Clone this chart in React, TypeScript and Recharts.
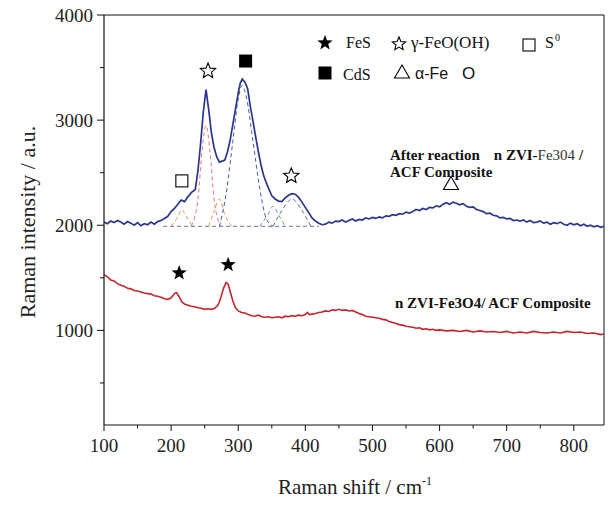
import React from 'react';
import { ComposedChart, Line, Scatter, XAxis, YAxis, ReferenceLine } from 'recharts';

// Raman spectrum after reaction (shift cm-1, intensity a.u.)
const afterReaction: number[][] = [
  [100, 2030], [105, 2015], [110, 2040], [115, 2025], [120, 2045], [125, 2030], [130, 2010],
  [135, 2035], [140, 2020], [145, 2000], [150, 2025], [155, 1995], [160, 2015], [165, 2005],
  [170, 2030], [175, 2010], [180, 2035], [185, 2045], [190, 2065], [195, 2085], [200, 2130],
  [205, 2160], [210, 2200], [215, 2240], [220, 2225], [225, 2270], [230, 2310], [236, 2340],
  [240, 2520], [244, 2780], [248, 3080], [252, 3290], [256, 3100], [260, 2880], [264, 2740],
  [268, 2650], [272, 2600], [276, 2610], [280, 2620], [284, 2700], [288, 2810], [292, 2960],
  [296, 3110], [300, 3260], [303, 3350], [306, 3390], [310, 3360], [314, 3300], [318, 3130],
  [322, 2990], [326, 2840], [330, 2700], [334, 2570], [338, 2470], [342, 2400], [346, 2340],
  [350, 2280], [355, 2250], [360, 2230], [365, 2225], [370, 2260], [375, 2285], [380, 2300],
  [385, 2295], [390, 2265], [395, 2220], [400, 2170], [405, 2120], [410, 2070], [415, 2040],
  [420, 2020], [425, 2005], [430, 2010], [435, 2030], [440, 2020], [445, 2040], [450, 2035],
  [455, 2050], [460, 2030], [465, 2045], [470, 2060], [475, 2040], [480, 2055], [485, 2050],
  [490, 2070], [495, 2060], [500, 2075], [505, 2065], [510, 2080], [515, 2070], [520, 2090],
  [525, 2085], [530, 2100], [535, 2095], [540, 2110], [545, 2105], [550, 2125], [555, 2115],
  [560, 2130], [565, 2150], [570, 2140], [575, 2160], [580, 2150], [585, 2170], [590, 2165],
  [595, 2185], [600, 2175], [605, 2200], [610, 2215], [615, 2200], [620, 2220], [625, 2210],
  [630, 2195], [635, 2205], [640, 2180], [645, 2170], [650, 2175], [655, 2150], [660, 2140],
  [665, 2130], [670, 2110], [675, 2115], [680, 2095], [685, 2090], [690, 2070], [695, 2075],
  [700, 2060], [705, 2065], [710, 2045], [715, 2050], [720, 2040], [725, 2050], [730, 2030],
  [735, 2045], [740, 2025], [745, 2030], [750, 2040], [755, 2020], [760, 2030], [765, 2010],
  [770, 2025], [775, 2015], [780, 2030], [785, 2010], [790, 2000], [795, 2020], [800, 2005],
  [805, 2015], [810, 1995], [815, 2010], [820, 1990], [825, 2000], [830, 1985], [835, 1995],
  [840, 1980], [845, 1990],
];

// Raman spectrum of the pristine composite
const composite: number[][] = [
  [100, 1530], [105, 1510], [110, 1480], [115, 1470], [120, 1445], [125, 1430], [130, 1420],
  [135, 1400], [140, 1395], [145, 1380], [150, 1375], [155, 1365], [160, 1355], [165, 1350],
  [170, 1345], [175, 1330], [180, 1325], [185, 1315], [190, 1300], [195, 1295], [200, 1310],
  [205, 1350], [208, 1360], [212, 1320], [216, 1270], [220, 1250], [225, 1240], [230, 1230],
  [235, 1225], [240, 1215], [245, 1210], [250, 1200], [255, 1205], [260, 1200], [265, 1210],
  [270, 1240], [274, 1310], [278, 1400], [282, 1455], [285, 1440], [288, 1370], [292, 1280],
  [296, 1215], [300, 1185], [305, 1170], [310, 1165], [315, 1150], [320, 1140], [325, 1135],
  [330, 1145], [335, 1130], [340, 1125], [345, 1130], [350, 1120], [355, 1125], [360, 1130],
  [365, 1120], [370, 1135], [375, 1130], [380, 1140], [385, 1135], [390, 1145], [395, 1140],
  [400, 1150], [403, 1170], [406, 1150], [410, 1155], [415, 1160], [420, 1170], [425, 1175],
  [430, 1185], [435, 1180], [440, 1195], [445, 1190], [450, 1200], [455, 1190], [460, 1195],
  [465, 1185], [470, 1190], [475, 1175], [480, 1160], [485, 1150], [490, 1135], [495, 1130],
  [500, 1125], [505, 1120], [510, 1115], [515, 1105], [520, 1100], [525, 1085], [530, 1075],
  [535, 1065], [540, 1055], [545, 1050], [550, 1040], [555, 1035], [560, 1030], [565, 1020],
  [570, 1025], [575, 1010], [580, 1015], [585, 1005], [590, 1010], [595, 1000], [600, 1005],
  [610, 995], [620, 1000], [630, 990], [640, 1000], [650, 985], [660, 995], [670, 985],
  [680, 990], [690, 980], [700, 990], [710, 975], [720, 985], [730, 975], [740, 990],
  [750, 980], [760, 975], [770, 985], [780, 975], [790, 990], [800, 980], [810, 985],
  [820, 970], [830, 975], [840, 960], [845, 965],
];

// Fitted components of the after-reaction spectrum
const fitBaseline: number[][] = [[188, 1990], [420, 1990]];
const fitSulfur: number[][] = [[200, 1990], [210, 2080], [216, 2150], [222, 2090], [232, 1990]];
const fitLepido: number[][] = [[230, 1990], [240, 2250], [246, 2700], [252, 2950], [258, 2700], [264, 2250], [274, 1990]];
const fitShoulder: number[][] = [[256, 1990], [265, 2150], [272, 2250], [280, 2100], [290, 1990]];
const fitCdS: number[][] = [[272, 1990], [282, 2300], [292, 2800], [300, 3200], [306, 3330], [312, 3220], [322, 2800], [332, 2350], [342, 2060], [352, 1990]];
const fitGreen: number[][] = [[332, 1990], [344, 2100], [352, 2180], [360, 2100], [370, 1990]];
const fitLepido2: number[][] = [[352, 1990], [366, 2150], [380, 2250], [394, 2150], [408, 1990]];

// Phase markers placed over the peaks
const peakMarkers = [
  { x: 255, y: 3467, kind: 'hollowStar' },
  { x: 311, y: 3562, kind: 'filledSquare' },
  { x: 216, y: 2422, kind: 'hollowSquare' },
  { x: 379, y: 2470, kind: 'hollowStar' },
  { x: 617, y: 2397, kind: 'triangle' },
  { x: 212, y: 1546, kind: 'filledStar' },
  { x: 285, y: 1625, kind: 'filledStar' },
];

const xTicks = [100, 150, 200, 250, 300, 350, 400, 450, 500, 550, 600, 650, 700, 750, 800];
const yTicks = [500, 1000, 1500, 2000, 2500, 3000, 3500, 4000];

const toPoints = (pairs: number[][]) => pairs.map(([x, y]) => ({ x, y }));

const SERIF = '"Liberation Serif", "Times New Roman", serif';
const SANS = '"Liberation Sans", Arial, sans-serif';

function starPoints(cx: number, cy: number, r: number, inner: number) {
  const pts: string[] = [];
  for (let i = 0; i < 10; i++) {
    const rad = i % 2 === 0 ? r : r * inner;
    const a = -Math.PI / 2 + (i * Math.PI) / 5;
    pts.push(`${(cx + rad * Math.cos(a)).toFixed(2)},${(cy + rad * Math.sin(a)).toFixed(2)}`);
  }
  return pts.join(' ');
}

function Glyph({ kind, cx, cy, r = 8 }: { kind: string; cx: number; cy: number; r?: number }) {
  switch (kind) {
    case 'filledStar':
      return <polygon points={starPoints(cx, cy, r, 0.42)} fill="#000" />;
    case 'hollowStar':
      return <polygon points={starPoints(cx, cy, r, 0.45)} fill="#fff" stroke="#000" strokeWidth={1.1} />;
    case 'filledSquare':
      return <rect x={cx - 6.5} y={cy - 6.5} width={13} height={13} fill="#000" />;
    case 'hollowSquare':
      return <rect x={cx - 6} y={cy - 6} width={12} height={12} fill="#fff" stroke="#000" strokeWidth={1.1} />;
    case 'triangle':
      return (
        <polygon
          points={`${cx},${cy - 7} ${cx - 7.5},${cy + 6} ${cx + 7.5},${cy + 6}`}
          fill="none"
          stroke="#000"
          strokeWidth={1.1}
        />
      );
    default:
      return null;
  }
}

const renderMarker = (props: any) => <Glyph kind={props.payload.kind} cx={props.cx} cy={props.cy} />;

function XTick(props: any) {
  const { x, y, payload } = props;
  const major = payload.value % 100 === 0;
  return (
    <g>
      <line x1={x} x2={x} y1={y} y2={y + (major ? 6 : 3.5)} stroke="#111" strokeWidth={1} />
      {major && (
        <text x={x} y={y + 27} textAnchor="middle" fontFamily={SERIF} fontSize={19} fill="#222">
          {payload.value}
        </text>
      )}
    </g>
  );
}

function YTick(props: any) {
  const { x, y, payload } = props;
  const major = payload.value % 1000 === 0;
  return (
    <g>
      <line x1={x - (major ? 7 : 4)} x2={x} y1={y} y2={y} stroke="#111" strokeWidth={1} />
      {major && (
        <text x={x - 11} y={y + 6.5} textAnchor="end" fontFamily={SERIF} fontSize={19} fill="#222">
          {payload.value}
        </text>
      )}
    </g>
  );
}

const fitLine = (pts: number[][], color: string, key: string) => (
  <Line
    key={key}
    data={toPoints(pts)}
    dataKey="y"
    type="monotone"
    stroke={color}
    strokeWidth={1}
    strokeDasharray="4 3"
    dot={false}
    activeDot={false}
    isAnimationActive={false}
  />
);

export default function App() {
  return (
    <div style={{ position: 'absolute', left: 0, top: 0, width: 611, height: 509, background: '#fff' }}>
      <ComposedChart width={611} height={509} margin={{ top: 15, right: 7, bottom: 0, left: 0 }}>
        <XAxis
          dataKey="x"
          type="number"
          domain={[100, 845]}
          ticks={xTicks}
          interval={0}
          allowDataOverflow
          tickLine={false}
          tickSize={0}
          tickMargin={0}
          height={84}
          axisLine={{ stroke: '#111', strokeWidth: 1.2 }}
          tick={<XTick />}
        />
        <YAxis
          type="number"
          domain={[100, 4000]}
          ticks={yTicks}
          interval={0}
          allowDataOverflow
          tickLine={false}
          tickSize={0}
          tickMargin={0}
          width={104}
          axisLine={{ stroke: '#111', strokeWidth: 1.2 }}
          tick={<YTick />}
        />
        <ReferenceLine y={4000} stroke="#111" strokeWidth={1.2} />
        <ReferenceLine x={845} stroke="#111" strokeWidth={1} />
        {fitLine(fitBaseline, '#6b6f9c', 'base')}
        {fitLine(fitSulfur, '#d69a5a', 's')}
        {fitLine(fitLepido, '#e07a86', 'l1')}
        {fitLine(fitShoulder, '#d9a05b', 'sh')}
        {fitLine(fitCdS, '#4b5aa6', 'cds')}
        {fitLine(fitGreen, '#5aa870', 'g')}
        {fitLine(fitLepido2, '#5a6aa8', 'l2')}
        <Line
          data={toPoints(composite)}
          dataKey="y"
          type="linear"
          stroke="#c3272d"
          strokeWidth={1.6}
          dot={false}
          activeDot={false}
          isAnimationActive={false}
        />
        <Line
          data={toPoints(afterReaction)}
          dataKey="y"
          type="linear"
          stroke="#2b3591"
          strokeWidth={1.7}
          dot={false}
          activeDot={false}
          isAnimationActive={false}
        />
        <Scatter data={peakMarkers} dataKey="y" shape={renderMarker} isAnimationActive={false} />
      </ComposedChart>
      <svg
        width={611}
        height={509}
        style={{ position: 'absolute', left: 0, top: 0, pointerEvents: 'none' }}
      >
        {/* legend */}
        <Glyph kind="filledStar" cx={325} cy={43} />
        <text x={346} y={48} fontFamily={SERIF} fontSize={16} fill="#111">FeS</text>
        <Glyph kind="hollowStar" cx={399} cy={44} r={7} />
        <text x={411} y={48} fontFamily={SERIF} fontSize={17} fill="#111">γ-FeO(OH)</text>
        <Glyph kind="hollowSquare" cx={529} cy={45} />
        <text x={545} y={48} fontFamily={SERIF} fontSize={16} fill="#111">S</text>
        <text x={555} y={41} fontFamily={SERIF} fontSize={10} fill="#111">0</text>
        <Glyph kind="filledSquare" cx={325} cy={73} />
        <text x={343} y={80} fontFamily={SERIF} fontSize={16} fill="#111">CdS</text>
        <Glyph kind="triangle" cx={402} cy={72} />
        <text x={415} y={79} fontFamily={SANS} fontSize={16} fill="#111">α-Fe</text>
        <text x={462} y={79} fontFamily={SANS} fontSize={17} fill="#111">O</text>

        {/* sample labels */}
        <text x={390} y={160} fontFamily={SERIF} fontSize={15} fontWeight="bold" fill="#111">
          <tspan>After reaction</tspan>
          <tspan dx={14}>n ZVI-</tspan>
          <tspan fontWeight="normal" fill="#333">Fe304</tspan>
          <tspan dx={4}>/</tspan>
        </text>
        <text x={390} y={177} fontFamily={SERIF} fontSize={15} fontWeight="bold" fill="#111">
          ACF Composite
        </text>
        <text x={395} y={308} fontFamily={SERIF} fontSize={15} fontWeight="bold" fill="#111">
          n ZVI-Fe3O4/ ACF Composite
        </text>

        {/* axis titles */}
        <text
          x={0}
          y={0}
          transform="translate(35 222) rotate(-90)"
          textAnchor="middle"
          fontFamily={SERIF}
          fontSize={22}
          fill="#222"
        >
          Raman intensity / a.u.
        </text>
        <text x={355} y={494} textAnchor="middle" fontFamily={SERIF} fontSize={21} fill="#222">
          Raman shift / cm<tspan dy={-9} fontSize={12}>-1</tspan>
        </text>
      </svg>
    </div>
  );
}
